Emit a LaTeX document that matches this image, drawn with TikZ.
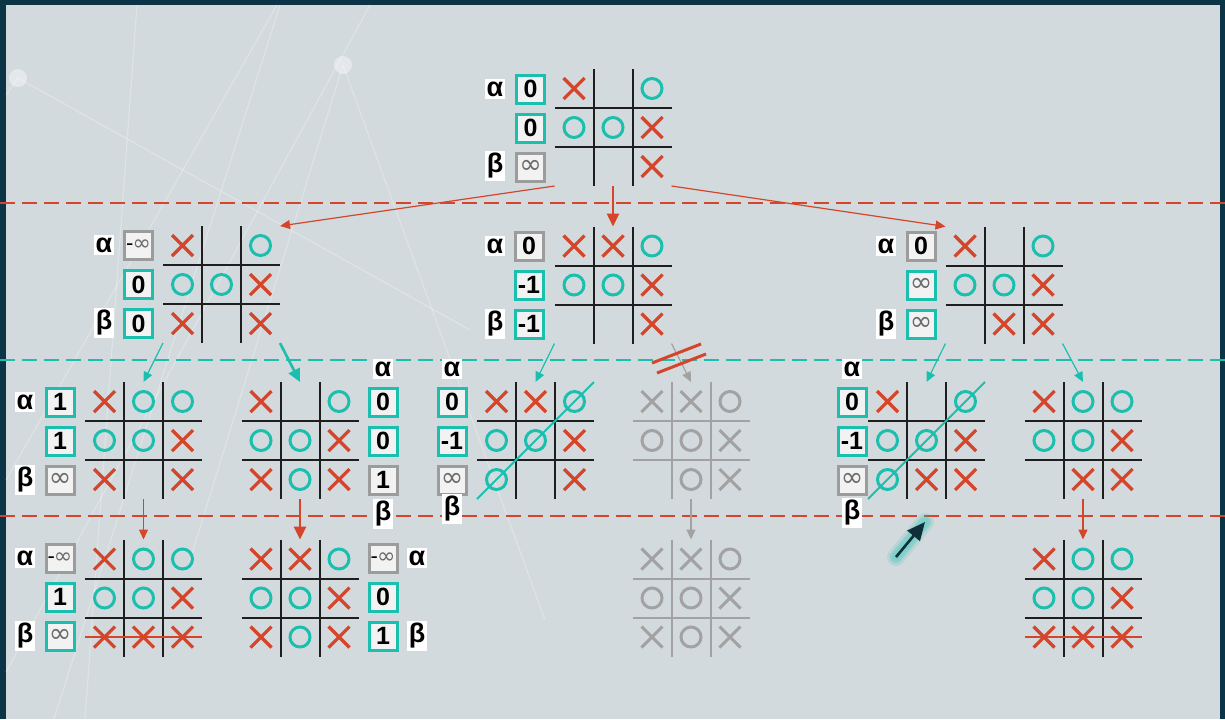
\documentclass[tikz,border=0pt]{standalone}
\usepackage{fontspec}
\setmainfont{Liberation Sans}
\newfontfamily\symfont{DejaVu Sans}
\usetikzlibrary{arrows.meta,calc}
\definecolor{tealc}{HTML}{1BBFAE}
\definecolor{redc}{HTML}{D5452B}
\definecolor{grayc}{HTML}{A2A2A2}
\definecolor{graybox}{HTML}{9C9C9C}
\definecolor{gridc}{HTML}{1E1E1E}
\definecolor{panelc}{HTML}{D3DADD}
\definecolor{darkc}{HTML}{0B3547}
\definecolor{boxfill}{HTML}{F2F2F2}
\definecolor{infc}{HTML}{6A6A6A}
\definecolor{arrowdark}{HTML}{0F2F3A}
\tikzset{
  boardbox/.style={minimum width=58.5pt,minimum height=58.5pt,inner sep=0pt,outer sep=0pt},
  gridline/.style={line width=1pt,draw=gridc},
  xmark/.style={line width=1.6pt,draw=redc},
  omark/.style={line width=1.5pt,draw=tealc},
  grayboard/.style={gridline/.style={line width=1pt,draw=grayc},
                    xmark/.style={line width=1.5pt,draw=grayc},
                    omark/.style={line width=1.5pt,draw=grayc}},
  valbox/.style={minimum size=14pt,inner sep=0pt,fill=boxfill,line width=1.5pt,
                 font=\bfseries\fontsize{12.5}{13}\selectfont},
  glabel/.style={fill=white,inner xsep=0.8pt,inner ysep=1.2pt,
                 font=\bfseries\fontsize{13.5}{14}\selectfont},
  reddash/.style={draw=redc,line width=1pt,dash pattern=on 7.5pt off 3.5pt},
  tealdash/.style={draw=tealc,line width=1pt,dash pattern=on 7.5pt off 3.5pt},
  thinred/.style={draw=redc,line width=0.6pt,-{Triangle[length=5pt,width=4.5pt]}},
  thickred/.style={draw=redc,line width=1.3pt,-{Triangle[length=6.5pt,width=6pt]}},
  thinteal/.style={draw=tealc,line width=0.6pt,-{Triangle[length=5pt,width=4.5pt]}},
  thickteal/.style={draw=tealc,line width=1.3pt,-{Triangle[length=6.5pt,width=6pt]}},
  thingray/.style={draw=grayc,line width=0.6pt,-{Triangle[length=5pt,width=4.5pt]}},
  winline/.style={draw=tealc,line width=1pt},
  strike/.style={draw=redc,line width=1.2pt},
  bgline/.style={draw=white,line width=0.6pt,opacity=0.25}
}
\newcommand\tmarkX[2]{\draw[xmark] (#1-10.5,#2-10.5) -- (#1+10.5,#2+10.5) (#1-10.5,#2+10.5) -- (#1+10.5,#2-10.5);}
\newcommand\tmarkO[2]{\draw[omark] (#1,#2) circle[radius=5pt];}
\newcommand\tmarkN[2]{}
\newcommand\tttboard[5][]{%
  \begin{scope}[#1]
  \node[boardbox] (#2) at (#3,#4) {};
  \draw[gridline] (#3-19.5,#4-58.5) -- (#3-19.5,#4+58.5)
    (#3+19.5,#4-58.5) -- (#3+19.5,#4+58.5)
    (#3-58.5,#4-19.5) -- (#3+58.5,#4-19.5)
    (#3-58.5,#4+19.5) -- (#3+58.5,#4+19.5);
  \foreach \m [count=\k from 0] in {#5} {
    \pgfmathsetmacro\mx{#3+39*(mod(\k,3)-1)}
    \pgfmathsetmacro\my{#4+39*(div(\k,3)-1)}
    \csname tmark\m\endcsname{\mx}{\my}
  }
  \end{scope}}
\newcommand\valcol[9]{%
  \node[valbox,draw=#5] (#1a) at (#2,#3-39) {#4};
  \node[valbox,draw=#7] (#1b) at (#2,#3) {#6};
  \node[valbox,draw=#9] (#1c) at (#2,#3+39) {#8};}
\newcommand\inftxt{{\symfont\mdseries\fontsize{13.5}{14}\selectfont\color{infc}∞}}
\newcommand\minftxt{{\mdseries\fontsize{11}{12}\selectfont -\kern-0.5pt{\symfont\color{infc}∞}}}
\begin{document}
\begin{tikzpicture}[x=0.5pt,y=-0.5pt]
\useasboundingbox (0,0) rectangle (1225,719);
\fill[darkc] (0,0) rectangle (1225,719);
\fill[panelc] (6,5) rectangle (1220,719);
% faint background network
\draw[bgline] (137,5) -- (85,719);
\draw[bgline] (277,5) -- (6,480);
\draw[bgline] (280,5) -- (54,719);
\draw[bgline] (370,5) -- (6,672);
\draw[bgline] (343,65) -- (190,560);
\draw[bgline] (343,65) -- (545,620);
\draw[bgline] (18,78) -- (470,330);
\draw[bgline] (6,95) -- (18,78);
\fill[white,opacity=0.4] (18,78) circle[radius=4.5pt];
\fill[white,opacity=0.4] (343,65) circle[radius=4.5pt];
% dashed level separators
\draw[reddash] (0,203) -- (1225,203);
\draw[tealdash] (0,360) -- (1225,360);
\draw[reddash] (0,516) -- (1225,516);
% level 1
\tttboard{top}{613}{127.5}{X,N,O,O,O,X,N,N,X}
\valcol{vt}{530.5}{128}{0}{tealc}{0}{tealc}{\inftxt}{graybox}
\node[glabel] (at1) at (495,89) {α};
\node[glabel] (bt1) at (495,166) {β};
% level 2
\tttboard{l2a}{221.5}{284.5}{X,N,O,O,O,X,X,N,X}
\valcol{va}{138.5}{284.5}{\minftxt}{graybox}{0}{tealc}{0}{tealc}
\node[glabel] (a2a) at (104,245) {α};
\node[glabel] (b2a) at (104,323) {β};
\tttboard{l2b}{613}{285}{X,X,O,O,O,X,N,N,X}
\valcol{vb}{529}{285}{0}{graybox}{-1}{tealc}{-1}{tealc}
\node[glabel] (a2b) at (495,246) {α};
\node[glabel] (b2b) at (495,324) {β};
\tttboard{l2c}{1004}{285}{X,N,O,O,O,X,N,X,X}
\valcol{vc}{921}{285}{0}{graybox}{\inftxt}{tealc}{\inftxt}{tealc}
\node[glabel] (a2c) at (886,246) {α};
\node[glabel] (b2c) at (886,324) {β};
% level 3
\tttboard{l3a}{143.5}{440.5}{X,O,O,O,O,X,X,N,X}
\valcol{v3a}{60}{441}{1}{tealc}{1}{tealc}{\inftxt}{graybox}
\node[glabel] (a3a) at (25,402) {α};
\node[glabel] (b3a) at (25,480) {β};
\tttboard{l3b}{300}{440.5}{X,N,O,O,O,X,X,O,X}
\valcol{v3b}{383}{441}{0}{tealc}{0}{tealc}{1}{graybox}
\node[glabel] (a3b) at (383,369) {α};
\node[glabel] (b3b) at (383,514) {β};
\tttboard{l3c}{535.5}{440.5}{X,X,O,O,O,X,O,N,X}
\valcol{v3c}{452}{441}{0}{tealc}{-1}{tealc}{\inftxt}{graybox}
\node[glabel] (a3c) at (452,369) {α};
\node[glabel] (b3c) at (452,509) {β};
\draw[winline] (l3c.south west) -- (l3c.north east);
\tttboard[grayboard]{l3d}{691}{440.5}{X,X,O,O,O,X,N,O,X}
\tttboard{l3e}{926.5}{440.5}{X,N,O,O,O,X,O,X,X}
\valcol{v3e}{852}{441}{0}{tealc}{-1}{tealc}{\inftxt}{graybox}
\node[glabel] (a3e) at (852,369) {α};
\node[glabel] (b3e) at (852,513) {β};
\draw[winline] (l3e.south west) -- (l3e.north east);
\tttboard{l3f}{1083}{440.5}{X,O,O,O,O,X,N,X,X}
% level 4
\tttboard{l4a}{143.5}{598}{X,O,O,O,O,X,X,X,X}
\valcol{v4a}{60}{597}{\minftxt}{graybox}{1}{tealc}{\inftxt}{tealc}
\node[glabel] (a4a) at (25,558) {α};
\node[glabel] (b4a) at (25,636) {β};
\draw[strike] ($(l4a.west)+(0,39)$) -- ($(l4a.east)+(0,39)$);
\tttboard{l4b}{300}{598}{X,X,O,O,O,X,X,O,X}
\valcol{v4b}{383}{597}{\minftxt}{graybox}{0}{tealc}{1}{tealc}
\node[glabel] (a4b) at (417,558) {α};
\node[glabel] (b4b) at (417,636) {β};
\tttboard[grayboard]{l4c}{691}{598}{X,X,O,O,O,X,X,O,X}
\tttboard{l4d}{1083}{598}{X,O,O,O,O,X,X,X,X}
\draw[strike] ($(l4d.west)+(0,39)$) -- ($(l4d.east)+(0,39)$);
% connectors
\draw[thinred] (top.south west) -- (l2a.north east);
\draw[thickred] (top.south) -- (l2b.north);
\draw[thinred] (top.south east) -- (l2c.north west);
\draw[thinteal] (l2a.south west) -- (l3a.north);
\draw[thickteal] (l2a.south east) -- (l3b.north);
\draw[thinteal] (l2b.south west) -- (l3c.north);
\draw[thingray] (l2b.south east) -- (l3d.north);
\draw[thinteal] (l2c.south west) -- (l3e.north);
\draw[thinteal] (l2c.south east) -- (l3f.north);
\draw[thinred] (l3a.south) -- (l4a.north);
\draw[thickred] (l3b.south) -- (l4b.north);
\draw[thingray] (l3d.south) -- (l4c.north);
\draw[thinred] (l3f.south) -- (l4d.north);
% pruning mark
\draw[redc,line width=1.5pt] (652,363) -- (701,344) (657,373) -- (706,354);
% highlight arrow
\coordinate (ga) at (896,557);
\coordinate (gb) at (925,522);
\draw[tealc,line width=9pt,opacity=0.15,line cap=round] (ga) -- (gb);
\draw[tealc,line width=6pt,opacity=0.25,line cap=round] (ga) -- (gb);
\draw[tealc!70!white,line width=3.5pt,opacity=0.4,line cap=round] (ga) -- (gb);
\draw[arrowdark,line width=1.3pt,-{Triangle[length=9pt,width=8pt]}] (ga) -- (gb);
\end{tikzpicture}
\end{document}
